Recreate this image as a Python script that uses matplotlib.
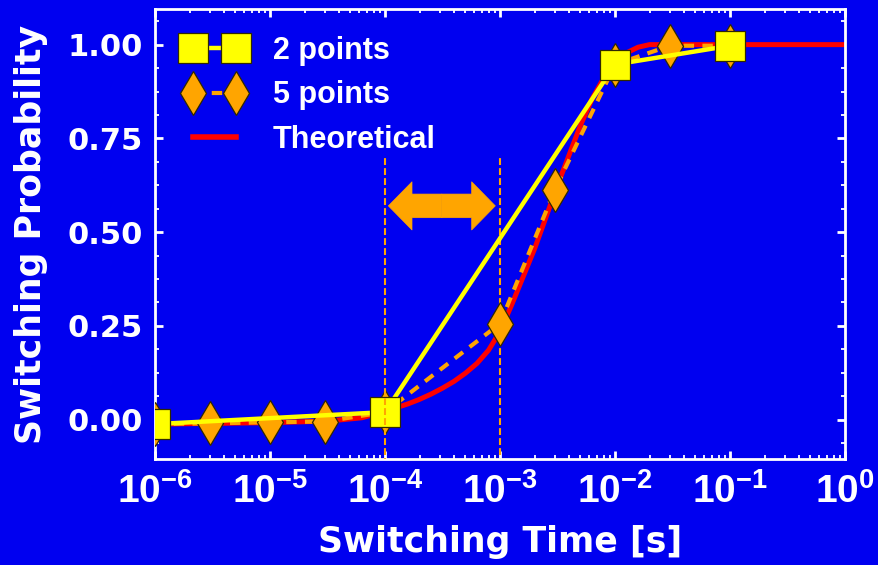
import matplotlib
matplotlib.use("Agg")
import matplotlib.pyplot as plt
from matplotlib.ticker import FixedLocator, FixedFormatter, LogLocator, MultipleLocator, NullFormatter
from matplotlib.lines import Line2D

# --- data -------------------------------------------------------------
t_2pts = [1e-6, 1e-4, 1e-2, 1e-1]
p_2pts = [-0.012, 0.020, 0.947, 0.997]

t_5pts = [1e-6, 3e-6, 1e-5, 3e-5, 1e-4, 1e-3, 3e-3, 1e-2, 3e-2, 1e-1]
p_5pts = [-0.012, -0.010, -0.007, -0.005, 0.020, 0.256, 0.613, 0.947, 0.997, 0.997]

log_t_theory = [-6.0, -5.5, -5.0, -4.5, -4.2, -4.0, -3.9, -3.8, -3.7, -3.6, -3.5,
                -3.4, -3.3, -3.2, -3.1, -3.0, -2.9, -2.8, -2.7, -2.6, -2.5, -2.4,
                -2.3, -2.2, -2.1, -2.0, -1.9, -1.8, -1.7, -1.5, 0.0]
p_theory = [-0.012, -0.010, -0.008, -0.004, 0.005, 0.022, 0.032, 0.042, 0.054,
            0.068, 0.084, 0.102, 0.124, 0.150, 0.185, 0.235, 0.305, 0.380, 0.455,
            0.540, 0.625, 0.705, 0.785, 0.855, 0.910, 0.952, 0.978, 0.993, 1.0,
            1.0, 1.0]

window_t = [1e-4, 1e-3]          # vertical guide lines
arrow_span = [1.07e-4, 9.1e-4]   # double arrow between the guides
arrow_p = 0.57

x_tick_exps = [-6, -5, -4, -3, -2, -1, 0]
y_ticks = [0.0, 0.25, 0.50, 0.75, 1.00]
y_tick_labels = ["0.00", "0.25", "0.50", "0.75", "1.00"]

# --- style ------------------------------------------------------------
BG = "#0000F0"
YELLOW = "#FFFF00"
ORANGE = "#FFA500"
RED = "#FF0000"
EDGE = "#302800"

plt.rcParams["mathtext.fontset"] = "custom"
plt.rcParams["mathtext.rm"] = "Liberation Sans:bold"
plt.rcParams["mathtext.bf"] = "Liberation Sans:bold"
plt.rcParams["mathtext.it"] = "Liberation Sans:bold"

fig = plt.figure(figsize=(8.79, 5.65), dpi=100, facecolor=BG)
ax = fig.add_axes([155 / 879, 1 - 459 / 565, 690 / 879, 450 / 565])
ax.set_facecolor(BG)

t_theory = [10.0 ** v for v in log_t_theory]
ax.plot(t_theory, p_theory, color=RED, lw=3.6, solid_capstyle="butt", zorder=2)

ax.plot(t_5pts, p_5pts, color=ORANGE, lw=3.0, dashes=(2.5, 2.0),
        marker="d", ms=22.4, mfc=ORANGE, mec=EDGE, mew=0.9, zorder=3)
ax.plot(t_2pts, p_2pts, color=YELLOW, lw=3.2,
        marker="s", ms=21.6, mfc=YELLOW, mec=EDGE, mew=0.9, zorder=4)

# dashed guide lines
ax.plot([window_t[1], window_t[1]], [-0.2, 0.70], color=ORANGE, lw=1.5,
        dashes=(3.3, 1.5), zorder=2.5)
ax.plot([window_t[0], window_t[0]], [-0.2, 0.70], color=ORANGE, lw=1.5,
        dashes=(3.3, 1.5), zorder=5)

# double-headed arrow built from two halves
t_mid = (arrow_span[0] * arrow_span[1]) ** 0.5
for end in arrow_span:
    ax.annotate("", xy=(end, arrow_p), xytext=(t_mid, arrow_p),
                arrowprops=dict(arrowstyle="simple,head_length=0.5,head_width=1.02,tail_width=0.5",
                                mutation_scale=34, fc=ORANGE, ec=ORANGE, lw=0.5,
                                shrinkA=0, shrinkB=0),
                zorder=6)

ax.set_xscale("log")
ax.set_xlim(1e-6, 1e0)
ax.set_ylim(-0.105, 1.095)

ax.xaxis.set_major_locator(FixedLocator([10.0 ** e for e in x_tick_exps]))
ax.xaxis.set_major_formatter(FixedFormatter([r"$\mathbf{10^{%d}}$" % e for e in x_tick_exps]))
ax.xaxis.set_minor_locator(LogLocator(base=10, subs=range(2, 10), numticks=20))
ax.xaxis.set_minor_formatter(NullFormatter())

ax.yaxis.set_major_locator(FixedLocator(y_ticks))
ax.yaxis.set_major_formatter(FixedFormatter(y_tick_labels))
ax.yaxis.set_minor_locator(MultipleLocator(0.0625))

for s in ax.spines.values():
    s.set_color("white")
    s.set_linewidth(2.0)

ax.tick_params(which="both", direction="in", colors="white", top=True, right=True)
ax.tick_params(which="major", length=6, width=2.0)
ax.tick_params(which="minor", length=3, width=1.3)
ax.tick_params(axis="x", which="major", pad=10, labelsize=28)
ax.tick_params(axis="y", which="major", pad=9, labelsize=22)

for lab in ax.get_xticklabels():
    lab.set_fontfamily("Liberation Sans")
    lab.set_fontweight("bold")
for lab in ax.get_yticklabels():
    lab.set_fontfamily("DejaVu Sans")
    lab.set_fontweight("bold")

ax.set_xlabel("Switching Time [s]", fontsize=25, fontweight="bold",
              family="DejaVu Sans", color="white", labelpad=10)
ax.set_ylabel("Switching Probability", fontsize=25, fontweight="bold",
              family="DejaVu Sans", color="white", labelpad=14)

handles = [
    Line2D([], [], color=YELLOW, lw=3.2, marker="s", ms=21.6, mfc=YELLOW, mec=EDGE, mew=0.9),
    Line2D([], [], color=ORANGE, lw=3.0, dashes=(2.5, 2.0), marker="d", ms=22.4,
           mfc=ORANGE, mec=EDGE, mew=0.9),
    Line2D([], [], color=RED, lw=4.0),
]
leg = ax.legend(handles, ["2 points", "5 points", "Theoretical"], loc="upper left",
                bbox_to_anchor=(0.042, 0.94), frameon=False, numpoints=2,
                handlelength=2.0, handletextpad=0.9, labelspacing=0.47,
                borderpad=0, borderaxespad=0,
                prop=dict(family="Liberation Sans", weight="bold", size=22))
for txt in leg.get_texts():
    txt.set_color("white")

fig.savefig("out.png", dpi=100, facecolor=BG)
